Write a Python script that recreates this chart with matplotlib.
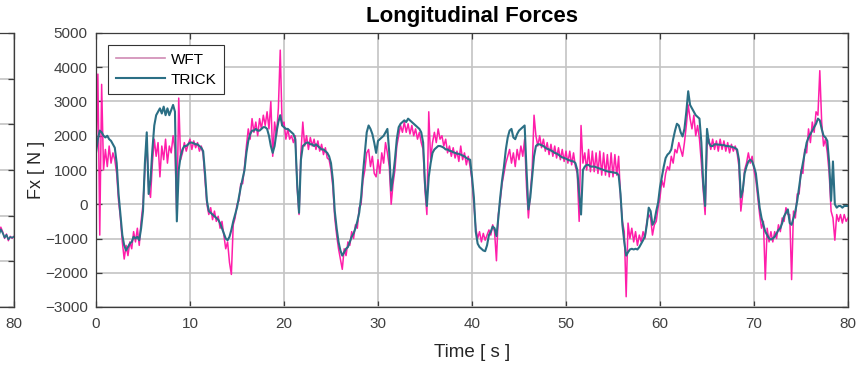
import numpy as np
import matplotlib
matplotlib.use("Agg")
import matplotlib.pyplot as plt

# sample period of the logged forces [s]
dt = 0.2

# WFT (wheel force transducer) longitudinal force [N], one row per second
wft_fx = [
    1200, 3800, -900, 3500, 1000,
    1600, 1100, 1700, 1200, 1500,
    1300, 900, 100, -400, -1100,
    -1600, -1200, -1500, -1100, -1300,
    -800, -1100, -700, -1200, -500,
    0, 1000, 1900, 500, 200,
    1200, 1900, 1400, 1800, 800,
    1700, 1300, 1900, 1200, 1700,
    1500, 2000, 1600, -400, 3100,
    1300, 1500, 1800, 1550, 1750,
    1900, 1600, 1850, 1650, 1800,      # 10 s
    1550, 1700, 1450, 700, 0,
    -300, -100, -450, -200, -500,
    -350, -700, -500, -900, -1300,
    -1100, -1700, -2050, -600, -400,
    0, 100, 600, 600, 1100,
    1700, 2200, 1900, 2500, 2100,
    2400, 2000, 2500, 2200, 2600,
    2300, 2700, 2200, 3000, 1400,
    2400, 2000, 2800, 4500, 2300,
    2400, 1900, 2200, 1900, 2000,      # 20 s
    1800, 2000, 500, -300, 1500,
    2400, 1700, 2000, 1600, 1950,
    1700, 1900, 1600, 1850, 1550,
    1750, 1450, 1650, 1350, 1300,
    1000, 500, -400, -900, -1300,
    -1600, -1900, -1300, -1500, -1100,
    -1200, -800, -1000, -600, -700,
    -100, 0, 700, 1000, 1500,
    1600, 1100, 1400, 900, 800,
    1300, 900, 1500, 1200, 1800,       # 30 s
    1500, 1100, 0, 600, 1000,
    1700, 2000, 2300, 2100, 2400,
    2100, 2350, 2050, 2300, 2000,
    2200, 1900, 2100, 1800, 1600,
    400, -300, 2700, 1300, 1800,
    2100, 1800, 2200, 1900, 2000,
    1700, 1900, 1500, 1700, 1400,
    1650, 1350, 1550, 1250, 1700,
    1300, 1500, 1150, 1400, 1100,
    700, 0, -700, -1000, -800,         # 40 s
    -1100, -850, -1050, -900, -750,
    -900, -600, -800, -1650, -300,
    100, 600, 900, 1200, 1400,
    1600, 1200, 1500, 1100, 1600,
    1300, 1700, 1400, 1900, 500,
    -400, 300, 1000, 2600, 2000,
    1700, 2000, 1650, 1900, 1550,
    1800, 1450, 1750, 1400, 1700,
    1350, 1650, 1300, 1600, 1250,
    1550, 1200, 1550, 1150, 1500,      # 50 s
    1100, 900, -500, 2300, 1200,
    1500, 1000, 1600, 950, 1550,
    950, 1500, 900, 1550, 850,
    1500, 850, 1450, 800, 1500,
    800, 1450, 850, 1400, 200,
    -500, -800, -2700, -550, -1000,
    -700, -1100, -800, -1200, -900,
    -1100, -800, -1000, -500, -300,
    -400, -900, -600, -500, -100,
    200, 700, 500, 900, 1100,          # 60 s
    1000, 1400, 1200, 1600, 1500,
    1800, 1600, 1400, 1800, 2300,
    2900, 2500, 2200, 2600, 2000,
    2300, 1900, 1200, 400, -300,
    1700, 1900, 1600, 1900, 1600,
    1850, 1550, 1900, 1600, 1850,
    1550, 1800, 1500, 1750, 1550,
    1700, 1500, 1100, -200, 300,
    1000, 1200, 1500, 1200, 1400,
    1000, 700, 200, -300, -700,        # 70 s
    -500, -2200, -700, -1100, -800,
    -1100, -800, -1000, -600, -800,
    -400, -500, -100, -300, -300,
    -2200, -200, -400, 300, 300,
    1000, 900, 1600, 1500, 2200,
    1800, 2400, 2100, 2700, 2600,
    3900, 2400, 1700, 1900, 1500,
    900, -200, -400, -1050, -300,
    -500, -300, -550, -300, -500,
    -400,                              # 80 s
]

# TRICK estimate of the longitudinal force [N], same sampling
trick_fx = [
    1500, 1900, 2150, 2100, 2000,
    1950, 2000, 1900, 1850, 1750,
    1650, 1200, 300, -300, -900,
    -1200, -1350, -1250, -1150, -1100,
    -950, -1000, -950, -1050, -700,
    -200, 1200, 2100, 300, 700,
    1600, 2300, 2600, 2700, 2800,
    2650, 2850, 2600, 2800, 2600,
    2750, 2900, 2700, -500, 1000,
    1400, 1600, 1700, 1700, 1750,
    1800, 1800, 1780, 1750, 1750,      # 10 s
    1700, 1650, 1550, 900, 100,
    -200, -250, -300, -350, -400,
    -450, -550, -700, -850, -1000,
    -1050, -950, -750, -500, -300,
    -100, 200, 500, 750, 1000,
    1500, 1850, 2050, 2150, 2150,
    2200, 2150, 2150, 2200, 2250,
    2250, 2200, 2000, 1700, 1500,
    1700, 2100, 2400, 2600, 2300,
    2250, 2200, 2200, 2150, 2100,      # 20 s
    2050, 1900, 600, -250, 1300,
    1700, 1750, 1800, 1800, 1750,
    1750, 1700, 1750, 1700, 1650,
    1600, 1600, 1550, 1500, 1400,
    1200, 700, -200, -700, -1100,
    -1350, -1500, -1400, -1300, -1250,
    -1100, -950, -850, -700, -500,
    -250, 200, 900, 1500, 2100,
    2300, 2200, 2050, 1800, 1500,
    1850, 1900, 1950, 2000, 2100,      # 30 s
    2200, 1500, 400, 800, 1300,
    1900, 2250, 2350, 2400, 2450,
    2400, 2500, 2450, 2400, 2350,
    2300, 2250, 2200, 2100, 1800,
    600, -50, 800, 1200, 1500,
    1600, 1650, 1700, 1700, 1680,
    1650, 1600, 1600, 1560, 1550,
    1520, 1500, 1480, 1470, 1450,
    1420, 1400, 1350, 1320, 1300,
    800, 200, -800, -1150, -1250,      # 40 s
    -1300, -1350, -1370, -1200, -900,
    -800, -650, -700, -930, -400,
    200, 700, 1100, 1600, 1950,
    2150, 2200, 1950, 1900, 2050,
    2150, 2200, 2250, 2300, 1000,
    -150, 200, 800, 1400, 1700,
    1750, 1750, 1720, 1700, 1650,
    1620, 1600, 1570, 1540, 1500,
    1480, 1450, 1400, 1370, 1350,
    1330, 1300, 1280, 1260, 1250,      # 50 s
    1200, 1000, 300, -300, 1000,
    1100, 1150, 1150, 1100, 1100,
    1100, 1080, 1060, 1040, 1020,
    1000, 980, 960, 950, 940,
    930, 920, 910, 850, 300,
    -600, -1100, -1500, -1400, -1320,
    -1300, -1320, -1300, -1320, -1250,
    -1150, -1050, -930, -600, -100,
    -200, -600, -500, -200, 50,
    500, 800, 1100, 1350, 1450,        # 60 s
    1500, 1600, 1900, 2150, 2350,
    2300, 2100, 1980, 2200, 2700,
    3300, 2900, 2800, 2700, 2600,
    2550, 2500, 1800, 600, -50,
    2200, 1800, 1700, 1700, 1750,
    1750, 1740, 1740, 1720, 1730,
    1700, 1700, 1690, 1680, 1660,
    1640, 1600, 1300, 200, 400,
    900, 1100, 1250, 1300, 1250,
    1100, 900, 400, -100, -400,        # 70 s
    -600, -800, -900, -1000, -1030,
    -1000, -950, -850, -750, -700,
    -550, -350, -250, -150, -550,
    -600, -400, -200, 100, 500,
    900, 1200, 1500, 1800, 1950,
    2050, 2150, 2250, 2350, 2500,
    2450, 2200, 2000, 1950, 1850,
    1200, 100, 1250, 0, -100,
    -50, -50, -100, -50, -50,
    -50,                               # 80 s
]

# end of the neighbouring panel (only its last seconds are on the page)
prev_t = [78.4, 78.6, 78.8, 79.0, 79.2, 79.4, 79.6, 79.8, 80.0]
prev_wft = [-2400, -2250, -2350, -2500, -2400, -2550, -2450, -2500, -2450]
prev_trick = [-2420, -2300, -2380, -2480, -2420, -2520, -2470, -2480, -2460]
time_ticks = [0, 10, 20, 30, 40, 50, 60, 70, 80]

wft_color = '#ff1eaa'
trick_color = '#2b6f85'

plt.rcParams['font.family'] = ['Liberation Sans', 'DejaVu Sans']


def style_axes(ax):
    ax.grid(True, color='#c4c4c4', linewidth=1.2)
    ax.set_axisbelow(True)
    for s in ax.spines.values():
        s.set_color('#3c3c3c')
        s.set_linewidth(0.9)
    ax.tick_params(direction='in', length=4, width=0.9, colors='#3c3c3c',
                   labelcolor='#404040', labelsize=11, top=True, right=True)
    ax.tick_params(axis='x', pad=7)
    ax.tick_params(axis='y', pad=6)


fig = plt.figure(figsize=(8.56, 3.66), dpi=100)
W, H = 856, 366
ax = fig.add_axes([96 / W, 59 / H, 752 / W, 274 / H])
prev = fig.add_axes([-738 / W, 59 / H, 752 / W, 274 / H])

# neighbouring panel, only its last time label falls on the page
prev.plot(prev_t, prev_wft, color=wft_color, lw=1.0)
prev.plot(prev_t, prev_trick, color=trick_color, lw=1.3)
prev.set_xlim(0, 80)
prev.set_ylim(-4000, 2000)
prev.set_xticks(time_ticks)
prev.set_xticklabels([''] * (len(time_ticks) - 1) + [str(time_ticks[-1])])
prev.set_yticks(np.arange(-4000, 2001, 1000))
prev.set_yticklabels([])
style_axes(prev)

# longitudinal forces
t = np.arange(len(wft_fx)) * dt
ax.plot(t, wft_fx, color=wft_color, lw=1.1, label='WFT')
ax.plot(t, trick_fx, color=trick_color, lw=1.5, label='TRICK')
ax.set_xlim(0, 80)
ax.set_ylim(-3000, 5000)
ax.set_xticks(time_ticks)
ax.set_yticks(np.arange(-3000, 5001, 1000))
style_axes(ax)

ax.set_title('Longitudinal Forces', fontsize=16, fontweight='bold', pad=8)
ax.set_xlabel('Time [ s ]', fontsize=13.5, color='#262626')
ax.set_ylabel('Fx [ N ]', fontsize=13, color='#262626')
ax.xaxis.set_label_coords(0.5, -0.135)
ax.yaxis.set_label_coords(-0.068, 0.5)

leg = ax.legend(loc='upper left', bbox_to_anchor=(12 / 752, 1 - 12 / 274),
                borderaxespad=0, fontsize=11, fancybox=False, framealpha=1,
                edgecolor='#333333', handlelength=3.2, handletextpad=0.4,
                borderpad=0.5, labelspacing=0.4)
leg.get_frame().set_linewidth(0.8)
leg.get_lines()[0].set_color('#cf8ab4')
leg.get_lines()[0].set_linewidth(1.2)
leg.get_lines()[1].set_linewidth(1.5)

fig.savefig('out.png', dpi=100)
